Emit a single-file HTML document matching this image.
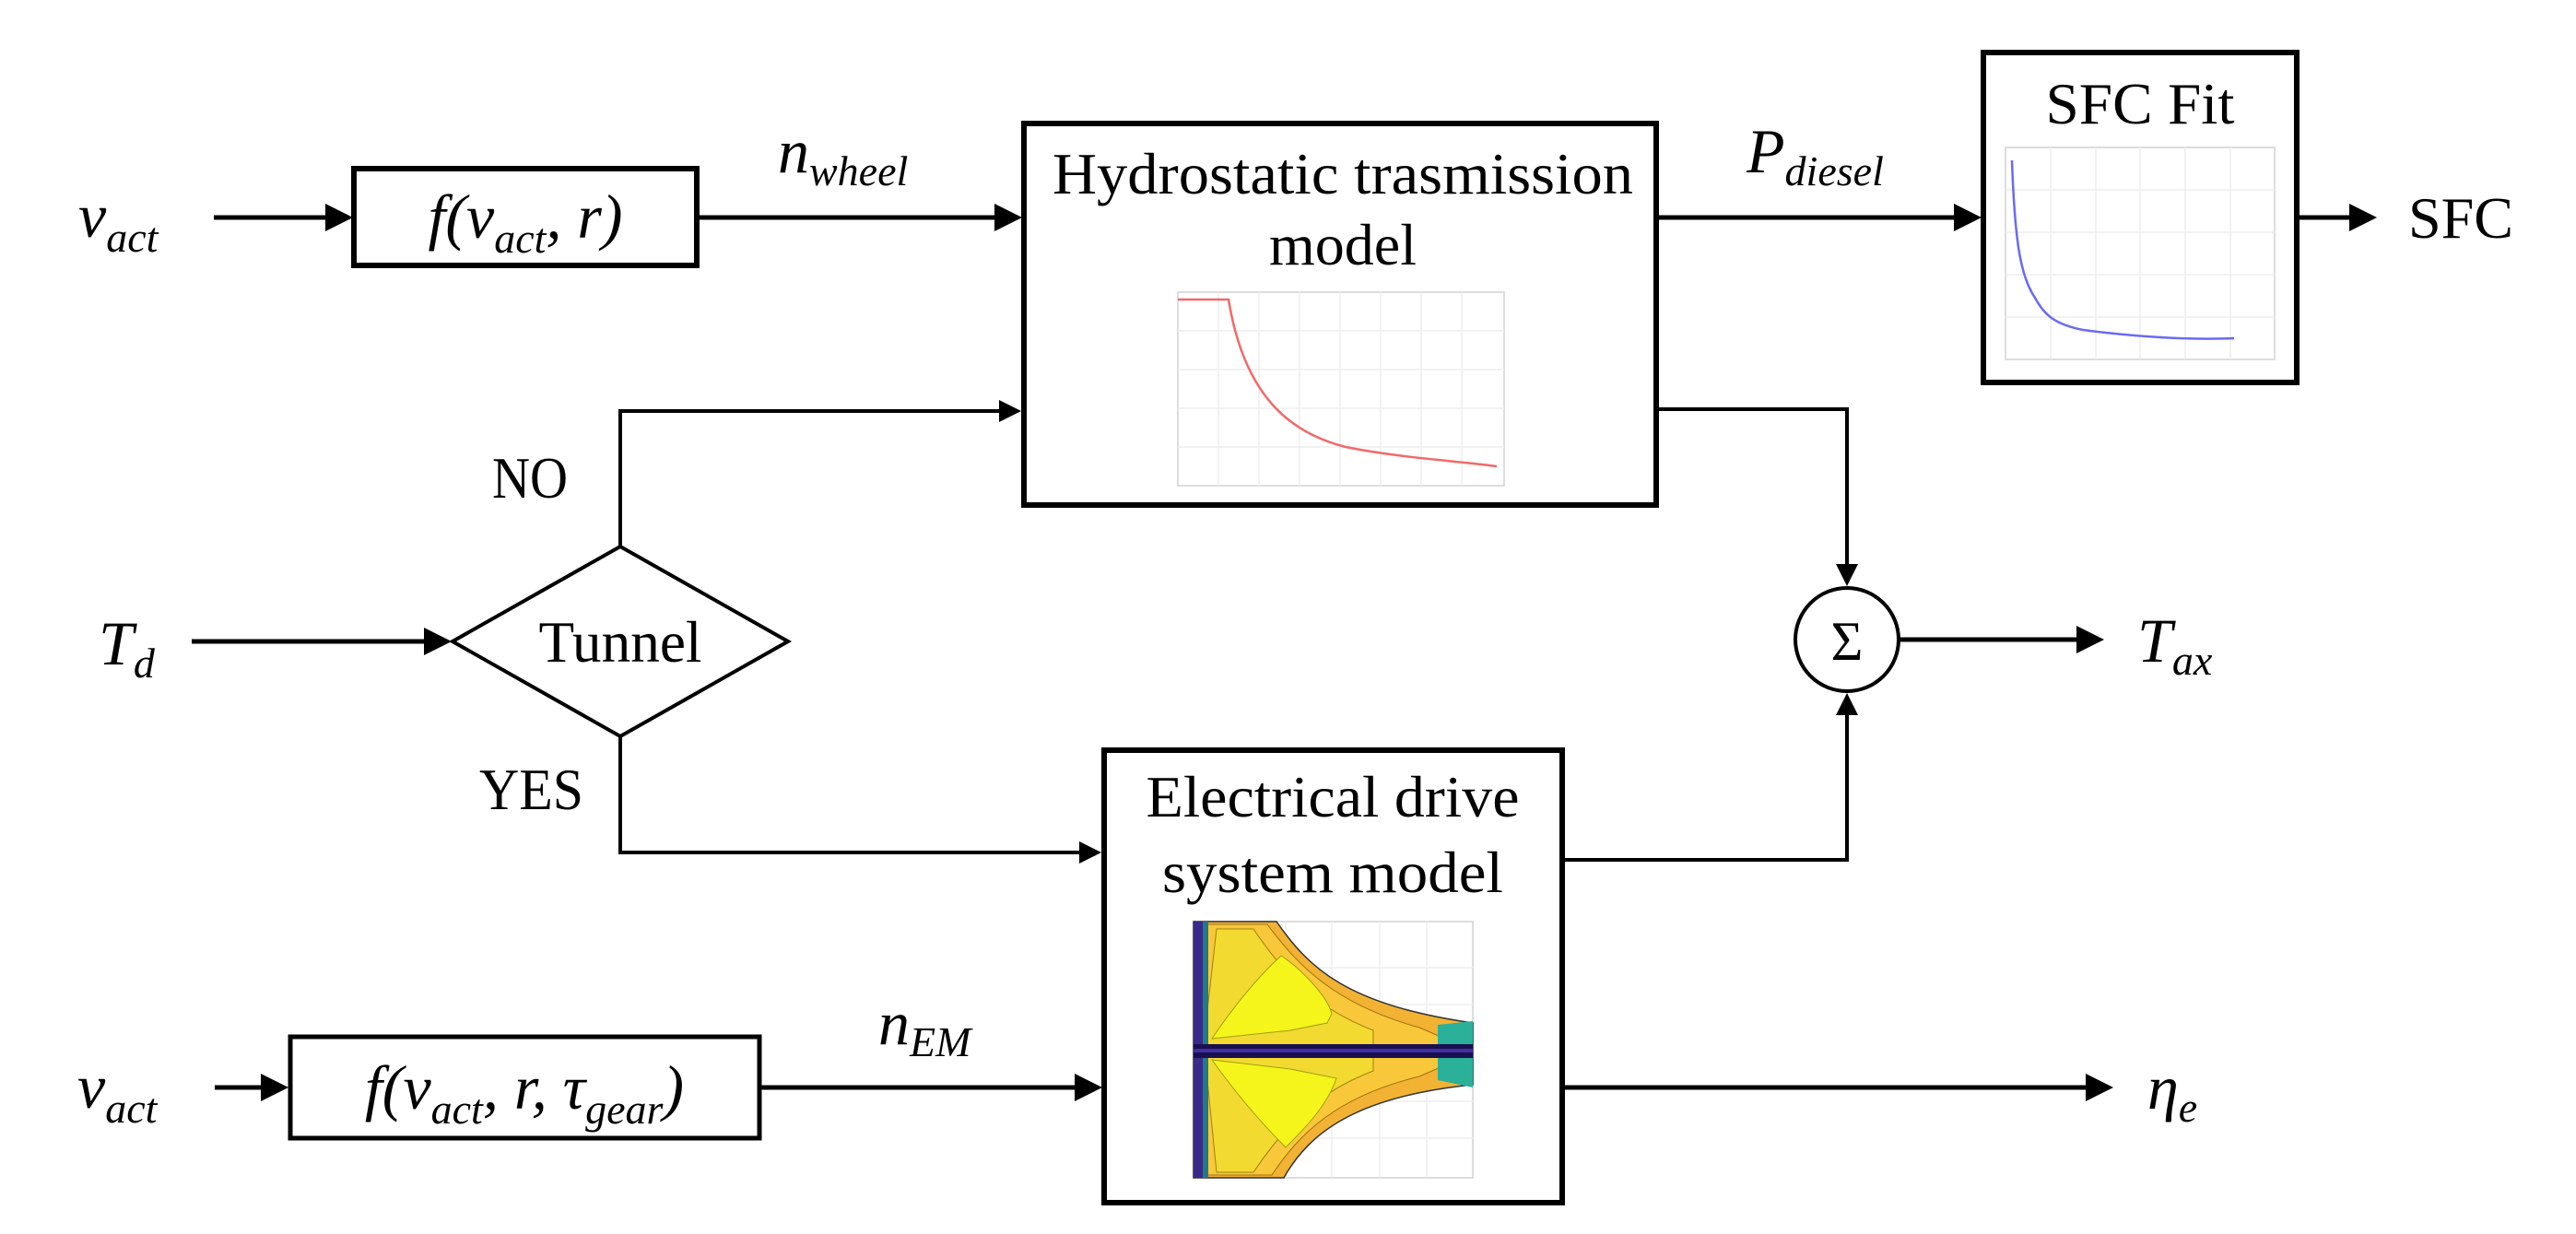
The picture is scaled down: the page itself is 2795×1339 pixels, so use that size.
<!DOCTYPE html>
<html><head><meta charset="utf-8"><style>
html,body{margin:0;padding:0;background:#fff;}
svg{display:block;}
text{font-family:"Liberation Serif",serif;fill:#000;}
.m{font-style:italic;font-size:68px;}
.s{font-size:46px;}
.t{font-size:64px;}
</style></head><body>
<svg width="2795" height="1339" viewBox="0 0 2795 1339" xmlns="http://www.w3.org/2000/svg">
<defs>
<marker id="a" markerWidth="6" markerHeight="6" refX="5" refY="3" orient="auto" markerUnits="strokeWidth">
<path d="M0,0 L6,3 L0,6 z" fill="#000"/></marker>
</defs>
<g stroke="#000" stroke-width="5" fill="none">
<rect x="384" y="183" width="372" height="105" stroke-width="6"/>
<rect x="1111" y="134" width="686" height="414" stroke-width="6"/>
<rect x="2152" y="57" width="340" height="358" stroke-width="6"/>
<rect x="1198" y="814" width="497" height="491" stroke-width="6"/>
<rect x="315" y="1125" width="509" height="110" stroke-width="5"/>
<polygon points="491,696 673,593 855,696 673,799" stroke-width="4"/>
<circle cx="2004" cy="694" r="56" stroke-width="4"/>
<line x1="232" y1="236" x2="378" y2="236" marker-end="url(#a)"/>
<line x1="756" y1="236" x2="1104" y2="236" marker-end="url(#a)"/>
<line x1="1797" y1="236" x2="2145" y2="236" marker-end="url(#a)"/>
<line x1="2492" y1="236" x2="2574" y2="236" marker-end="url(#a)"/>
<polyline points="673,593 673,446 1104,446" marker-end="url(#a)" stroke-width="4"/>
<line x1="208" y1="696" x2="485" y2="696" marker-end="url(#a)"/>
<polyline points="673,799 673,925 1191,925" marker-end="url(#a)" stroke-width="4"/>
<polyline points="1797,444 2004,444 2004,632" marker-end="url(#a)" stroke-width="4"/>
<polyline points="1695,933 2004,933 2004,756" marker-end="url(#a)" stroke-width="4"/>
<line x1="2060" y1="694" x2="2278" y2="694" marker-end="url(#a)"/>
<line x1="233" y1="1180" x2="308" y2="1180" marker-end="url(#a)"/>
<line x1="824" y1="1180" x2="1191" y2="1180" marker-end="url(#a)"/>
<line x1="1695" y1="1180" x2="2288" y2="1180" marker-end="url(#a)"/>
</g>

<g>
<rect x="1278" y="317" width="354" height="210" fill="#fff" stroke="#ddd" stroke-width="2"/>
<g stroke="#eee" stroke-width="1.5">
<line x1="1322" y1="317" x2="1322" y2="527"/><line x1="1366" y1="317" x2="1366" y2="527"/>
<line x1="1410" y1="317" x2="1410" y2="527"/><line x1="1454" y1="317" x2="1454" y2="527"/>
<line x1="1498" y1="317" x2="1498" y2="527"/><line x1="1542" y1="317" x2="1542" y2="527"/>
<line x1="1586" y1="317" x2="1586" y2="527"/>
<line x1="1278" y1="359" x2="1632" y2="359"/><line x1="1278" y1="401" x2="1632" y2="401"/>
<line x1="1278" y1="443" x2="1632" y2="443"/><line x1="1278" y1="485" x2="1632" y2="485"/>
</g>
<path d="M1278,325 L1333,325 C1350,430 1400,470 1460,485 C1520,497 1580,500 1624,506" fill="none" stroke="#f06a6a" stroke-width="2.5"/>
</g>

<g>
<rect x="2176" y="160" width="292" height="230" fill="#fff" stroke="#ddd" stroke-width="2"/>
<g stroke="#eee" stroke-width="1.5">
<line x1="2225" y1="160" x2="2225" y2="390"/><line x1="2274" y1="160" x2="2274" y2="390"/>
<line x1="2322" y1="160" x2="2322" y2="390"/><line x1="2371" y1="160" x2="2371" y2="390"/>
<line x1="2420" y1="160" x2="2420" y2="390"/>
<line x1="2176" y1="206" x2="2468" y2="206"/><line x1="2176" y1="252" x2="2468" y2="252"/>
<line x1="2176" y1="298" x2="2468" y2="298"/><line x1="2176" y1="344" x2="2468" y2="344"/>
</g>
<path d="M2183,174 C2186,260 2192,300 2208,323 C2218,342 2230,352 2260,358 C2320,366 2380,369 2424,367" fill="none" stroke="#6a6af5" stroke-width="2.5"/>
</g>

<g>
<rect x="1295" y="1000" width="303" height="278" fill="#fff" stroke="#ddd" stroke-width="2"/>
<g stroke="#eee" stroke-width="1.5">
<line x1="1343" y1="1000" x2="1343" y2="1278"/><line x1="1395" y1="1000" x2="1395" y2="1278"/>
<line x1="1445" y1="1000" x2="1445" y2="1278"/><line x1="1497" y1="1000" x2="1497" y2="1278"/>
<line x1="1548" y1="1000" x2="1548" y2="1278"/>
<line x1="1295" y1="1050" x2="1598" y2="1050"/><line x1="1295" y1="1090" x2="1598" y2="1090"/>
<line x1="1295" y1="1195" x2="1598" y2="1195"/><line x1="1295" y1="1235" x2="1598" y2="1235"/>
</g>
<path d="M1295,1000 L1385,1000 C1420,1050 1460,1090 1598,1110 L1598,1177 C1470,1190 1420,1230 1393,1278 L1295,1278 Z" fill="#f2b233" stroke="#333" stroke-width="1.5"/>
<path d="M1302,1132 L1308,1003 L1375,1003 C1410,1050 1450,1090 1540,1115 L1570,1128 L1570,1155 L1540,1168 C1450,1190 1410,1230 1380,1275 L1308,1275 Z" fill="#f8c83a" stroke="#a07010" stroke-width="1"/>
<path d="M1306,1132 L1320,1008 L1360,1008 C1395,1060 1430,1095 1490,1118 L1490,1162 C1430,1185 1395,1220 1360,1272 L1320,1272 Z" fill="#f2da30" stroke="#a08010" stroke-width="1"/>
<path d="M1315,1127 C1340,1090 1365,1060 1390,1037 C1410,1050 1440,1080 1445,1100 L1440,1110 L1400,1118 Z" fill="#f5f51c" stroke="#a0a010" stroke-width="1"/>
<path d="M1315,1150 L1400,1160 L1450,1170 C1440,1200 1415,1225 1395,1245 C1365,1215 1340,1185 1315,1150 Z" fill="#f5f51c" stroke="#a0a010" stroke-width="1"/>
<path d="M1560,1112 L1598,1108 L1598,1180 L1560,1172 Z" fill="#2bb09a"/>
<rect x="1295" y="1000" width="10" height="278" fill="#3a2a8a"/>
<rect x="1305" y="1000" width="6" height="278" fill="#1f7a8c"/>
<rect x="1295" y="1133" width="303" height="15" fill="#1a1050"/>
<rect x="1295" y="1138" width="303" height="4" fill="#4030a0"/>
</g>

<text class="t" x="1457" y="210" text-anchor="middle" textLength="630" lengthAdjust="spacingAndGlyphs">Hydrostatic trasmission</text>
<text class="t" x="1457" y="287" text-anchor="middle">model</text>
<text class="t" x="2322" y="134" text-anchor="middle" textLength="205" lengthAdjust="spacingAndGlyphs">SFC Fit</text>
<text class="t" x="1446" y="886" text-anchor="middle" textLength="405" lengthAdjust="spacingAndGlyphs">Electrical drive</text>
<text class="t" x="1446" y="968" text-anchor="middle" textLength="370" lengthAdjust="spacingAndGlyphs">system model</text>
<text class="t" x="673" y="718" text-anchor="middle" textLength="177" lengthAdjust="spacingAndGlyphs">Tunnel</text>
<text class="t" x="534" y="540" textLength="82" lengthAdjust="spacingAndGlyphs">NO</text>
<text class="t" x="520" y="878" textLength="113" lengthAdjust="spacingAndGlyphs">YES</text>
<text class="t" x="2613" y="258" textLength="114" lengthAdjust="spacingAndGlyphs">SFC</text>
<text x="2004" y="716" text-anchor="middle" style="font-size:60px">Σ</text>

<text class="m" x="85" y="257">v<tspan class="s" dy="16">act</tspan></text>
<text class="m" x="570" y="258" text-anchor="middle">f(v<tspan class="s" dy="16">act</tspan><tspan dy="-16">, r)</tspan></text>
<text class="m" x="844" y="187">n<tspan class="s" dy="14">wheel</tspan></text>
<text class="m" x="1895" y="187">P<tspan class="s" dy="14">diesel</tspan></text>
<text class="m" x="107" y="721">T<tspan class="s" dy="14">d</tspan></text>
<text class="m" x="2319" y="718">T<tspan class="s" dy="14">ax</tspan></text>
<text class="m" x="2330" y="1203">η<tspan class="s" dy="14">e</tspan></text>
<text class="m" x="84" y="1202">v<tspan class="s" dy="16">act</tspan></text>
<text class="m" x="569" y="1203" text-anchor="middle">f(v<tspan class="s" dy="16">act</tspan><tspan dy="-16">, r, τ</tspan><tspan class="s" dy="16">gear</tspan><tspan dy="-16">)</tspan></text>
<text class="m" x="953" y="1133">n<tspan class="s" dy="13">EM</tspan></text>
</svg>
</body></html>
